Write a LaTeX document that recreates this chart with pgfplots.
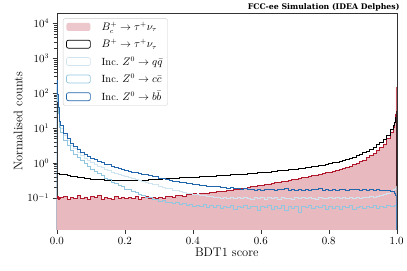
\documentclass[border=0pt]{standalone}
\usepackage{fontspec}
\usepackage{pgfplots}
\usepackage{pgfplotstable}
\pgfplotsset{compat=1.18}
\newfontfamily\titlefont{DejaVu Serif}
\definecolor{bcred}{RGB}{178,24,43}
\definecolor{bcfill}{RGB}{232,186,191}
\definecolor{qqc}{RGB}{209,229,240}
\definecolor{ccc}{RGB}{146,197,222}
\definecolor{bbc}{RGB}{33,102,172}
\pgfplotstableread{
x      bc    bp    qq    cc    bb
0      0.001 0.001 0.001 0.001 0.001
0      0.098 0.50  180   150   235
0.002  0.112 0.50  70    60    90
0.004  0.09  0.49  32    27    40
0.006  0.105 0.49  20    16    24
0.008  0.095 0.485 13    10.5  16
0.01   0.10  0.48  10    7.5   12
0.02   0.112 0.46  6.0   4.5   7.0
0.03   0.092 0.44  4.3   3.1   4.9
0.04   0.104 0.42  3.1   2.3   3.6
0.05   0.098 0.405 2.55  1.8   2.95
0.06   0.115 0.39  2.0   1.45  2.4
0.07   0.094 0.38  1.68  1.17  2.05
0.08   0.106 0.365 1.38  0.94  1.74
0.09   0.088 0.357 1.2   0.81  1.57
0.10   0.109 0.346 1.03  0.67  1.37
0.11   0.101 0.342 0.91  0.59  1.26
0.12   0.116 0.334 0.79  0.49  1.11
0.13   0.093 0.331 0.73  0.44  1.03
0.14   0.104 0.324 0.64  0.36  0.93
0.15   0.097 0.321 0.61  0.34  0.88
0.16   0.089 0.317 0.54  0.28  0.79
0.17   0.111 0.316 0.51  0.265 0.75
0.18   0.099 0.312 0.46  0.225 0.68
0.19   0.106 0.313 0.445 0.21  0.66
0.20   0.094 0.311 0.405 0.18  0.61
0.21   0.103 0.314 0.39  0.17  0.59
0.22   0.097 0.314 0.355 0.148 0.545
0.23   0.108 0.319 0.345 0.14  0.535
0.24   0.092 0.32  0.315 0.122 0.495
0.25   0.101 0.324 0.305 0.118 0.485
0.26   0.11  0.326 0.275 0.104 0.455
0.27   0.095 0.331 0.265 0.101 0.445
0.28   0.104 0.334 0.24  0.091 0.415
0.29   0.099 0.341 0.235 0.09  0.405
0.30   0.106 0.344 0.21  0.081 0.365
0.31   0.098 0.351 0.205 0.082 0.355
0.32   0.108 0.354 0.185 0.075 0.33
0.33   0.112 0.361 0.183 0.076 0.325
0.34   0.105 0.364 0.166 0.069 0.305
0.35   0.115 0.371 0.163 0.072 0.3
0.36   0.118 0.373 0.148 0.066 0.28
0.37   0.112 0.379 0.147 0.068 0.275
0.38   0.122 0.381 0.135 0.061 0.258
0.39   0.126 0.388 0.134 0.064 0.258
0.40   0.13  0.391 0.124 0.058 0.243
0.41   0.124 0.398 0.124 0.061 0.243
0.42   0.134 0.401 0.115 0.056 0.228
0.43   0.138 0.408 0.117 0.063 0.229
0.44   0.133 0.411 0.108 0.052 0.216
0.45   0.142 0.419 0.11  0.059 0.218
0.46   0.147 0.423 0.104 0.054 0.206
0.47   0.15  0.431 0.106 0.06  0.208
0.48   0.148 0.435 0.099 0.05  0.197
0.49   0.156 0.443 0.103 0.057 0.2
0.50   0.16  0.447 0.097 0.053 0.19
0.51   0.166 0.456 0.105 0.061 0.193
0.52   0.17  0.461 0.096 0.047 0.184
0.53   0.176 0.47  0.101 0.056 0.187
0.54   0.182 0.475 0.094 0.052 0.178
0.55   0.19  0.485 0.104 0.062 0.182
0.56   0.198 0.491 0.098 0.049 0.172
0.57   0.206 0.501 0.093 0.055 0.176
0.58   0.214 0.509 0.106 0.058 0.168
0.59   0.222 0.521 0.097 0.045 0.178
0.60   0.232 0.529 0.101 0.057 0.165
0.61   0.24  0.541 0.092 0.053 0.174
0.62   0.25  0.551 0.104 0.06  0.169
0.63   0.26  0.566 0.096 0.048 0.18
0.64   0.27  0.577 0.1   0.056 0.163
0.65   0.282 0.593 0.093 0.051 0.175
0.66   0.293 0.605 0.105 0.062 0.17
0.67   0.305 0.621 0.097 0.044 0.182
0.68   0.318 0.635 0.099 0.055 0.166
0.69   0.332 0.653 0.091 0.05  0.173
0.70   0.346 0.669 0.103 0.058 0.161
0.71   0.36  0.691 0.096 0.038 0.176
0.72   0.376 0.709 0.102 0.056 0.168
0.73   0.393 0.731 0.094 0.052 0.179
0.74   0.41  0.754 0.105 0.061 0.164
0.75   0.43  0.781 0.098 0.049 0.172
0.76   0.45  0.804 0.092 0.057 0.17
0.77   0.472 0.832 0.104 0.053 0.181
0.78   0.496 0.869 0.099 0.06  0.165
0.79   0.522 0.911 0.095 0.046 0.174
0.80   0.55  0.96  0.103 0.055 0.168
0.81   0.58  1.01  0.097 0.051 0.177
0.82   0.615 1.06  0.106 0.058 0.163
0.83   0.655 1.12  0.094 0.048 0.171
0.84   0.7   1.19  0.101 0.056 0.175
0.85   0.75  1.27  0.098 0.052 0.166
0.86   0.81  1.36  0.105 0.061 0.18
0.87   0.88  1.47  0.096 0.047 0.169
0.88   0.97  1.6   0.103 0.054 0.173
0.89   1.08  1.76  0.099 0.058 0.164
0.90   1.22  1.95  0.106 0.05  0.176
0.91   1.4   2.2   0.101 0.056 0.168
0.92   1.62  2.5   0.108 0.053 0.172
0.93   1.9   2.85  0.104 0.06  0.165
0.94   2.3   3.3   0.112 0.049 0.17
0.95   2.8   3.9   0.116 0.057 0.162
0.96   3.5   4.7   0.124 0.053 0.166
0.97   5.0   6.3   0.138 0.059 0.158
0.98   7.5   9.0   0.155 0.055 0.155
0.99   10.5  12    0.17  0.058 0.148
0.9925 15    15    0.18  0.062 0.138
0.995  25    20    0.19  0.06  0.12
0.9975 150   30    0.21  0.064 0.09
1.0    150   30    0.21  0.064 0.09
1.0    0.001 0.001 0.001 0.001 0.001
}\hist

\begin{document}
\begin{tikzpicture}
\begin{axis}[
  at={(0pt,0pt)}, anchor=south west,
  width=341pt, height=217pt, scale only axis,
  xmin=0, xmax=1, ymode=log, ymin=0.0125, ymax=2e4,
  axis line style={black!80},
  tick align=outside, xtick pos=bottom, ytick pos=left,
  tick style={black!80},
  xtick={0,0.2,0.4,0.6,0.8,1.0},
  ytick={0.1,1,10,100,1000,10000},
  xticklabel style={/pgf/number format/.cd, fixed, fixed zerofill, precision=1},
  ticklabel style={font=\fontsize{10.5}{12}\selectfont},
  xlabel={BDT1 score}, ylabel={Normalised counts},
  label style={font=\fontsize{12.5}{14}\selectfont},
  ylabel style={yshift=-2pt},
  xlabel style={yshift=3pt},
  legend image code/.code={\path[#1] (0pt,-4pt) rectangle (24pt,4pt);},
  legend style={at={(0.018,0.975)}, anchor=north west, draw=black!20,
    fill=white, fill opacity=0.8, text opacity=1,
    rounded corners=2pt, font=\fontsize{10.5}{12}\selectfont,
    row sep=3.5pt, inner xsep=3pt, inner ysep=1.5pt,
    /tikz/every odd column/.append style={column sep=9pt}},
  legend cell align=left,
]
\addplot[const plot mark left, fill=bcfill, draw=none] table[x=x, y=bc] {\hist};
\addlegendentry{$B_c^+\rightarrow\tau^+\nu_\tau$}
\addplot[const plot mark left, draw=bcred, line width=0.7pt, forget plot] table[x=x, y=bc] {\hist};
\addplot[const plot mark left, draw=black, line width=0.7pt] table[x=x, y=bp] {\hist};
\addlegendentry{$B^+\rightarrow\tau^+\nu_\tau$}
\addplot[const plot mark left, draw=qqc, line width=0.7pt] table[x=x, y=qq] {\hist};
\addlegendentry{Inc.\ $Z^0\rightarrow q\bar{q}$}
\addplot[const plot mark left, draw=ccc, line width=0.7pt] table[x=x, y=cc] {\hist};
\addlegendentry{Inc.\ $Z^0\rightarrow c\bar{c}$}
\addplot[const plot mark left, draw=bbc, line width=0.7pt] table[x=x, y=bb] {\hist};
\addlegendentry{Inc.\ $Z^0\rightarrow b\bar{b}$}
\end{axis}
\node[anchor=base east, inner sep=0pt, font=\titlefont\fontsize{7.8}{9}\selectfont\bfseries] at (344pt,220.5pt) {FCC-ee Simulation (IDEA Delphes)};
\path (-57pt,-41pt) rectangle (350pt,230pt);
\end{tikzpicture}
\end{document}
